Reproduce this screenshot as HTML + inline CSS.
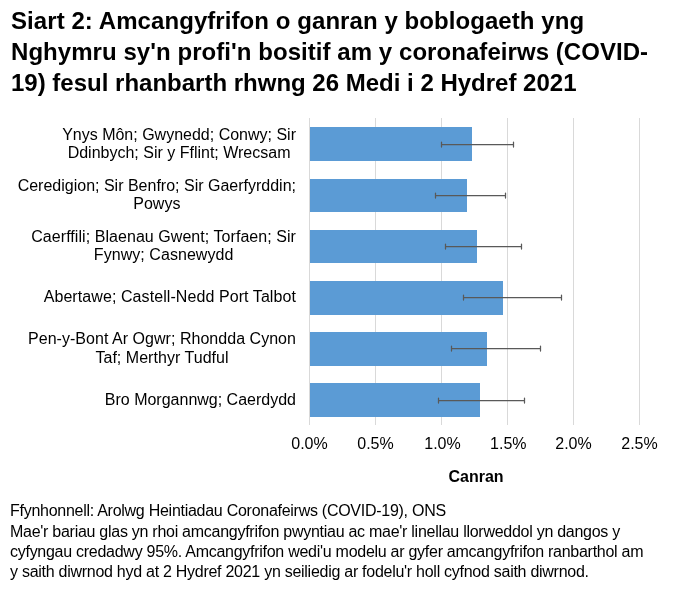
<!DOCTYPE html>
<html lang="cy">
<head>
<meta charset="utf-8">
<title>Siart 2</title>
<style>
html,body{margin:0;padding:0;background:#fff;}
body{width:675px;height:600px;position:relative;overflow:hidden;font-family:"Liberation Sans",Arial,sans-serif;color:#000;}
.t{position:absolute;white-space:nowrap;}
#title{left:11px;top:5px;font-weight:bold;font-size:24px;line-height:31px;}
.cat{position:absolute;right:379px;text-align:center;font-size:16px;line-height:18px;white-space:nowrap;color:#000;}
.ax{position:absolute;width:60px;text-align:center;font-size:16px;line-height:18px;top:435px;}
#canran{position:absolute;left:426px;width:100px;text-align:center;font-weight:bold;font-size:16px;line-height:18px;top:468px;}
#foot{position:absolute;left:10px;top:500.5px;font-size:16px;letter-spacing:-0.27px;line-height:20px;white-space:nowrap;}
#foot .l1{display:block;margin-bottom:1px;}
svg{position:absolute;left:0;top:0;}
</style>
</head>
<body>
<div id="title" class="t"><span style="letter-spacing:0.07px">Siart 2: Amcangyfrifon o ganran y boblogaeth yng</span><br><span style="letter-spacing:0.055px">Nghymru sy'n profi'n bositif am y coronafeirws (COVID-</span><br>19) fesul rhanbarth rhwng 26 Medi i 2 Hydref 2021</div>

<svg width="675" height="600" viewBox="0 0 675 600">
  <g stroke="#d9d9d9" stroke-width="1">
    <line x1="309.5" y1="118" x2="309.5" y2="425"/>
    <line x1="375.5" y1="118" x2="375.5" y2="425"/>
    <line x1="441.5" y1="118" x2="441.5" y2="425"/>
    <line x1="507.5" y1="118" x2="507.5" y2="425"/>
    <line x1="573.5" y1="118" x2="573.5" y2="425"/>
    <line x1="639.5" y1="118" x2="639.5" y2="425"/>
  </g>
  <g fill="#5b9bd5">
    <rect x="310" y="127" width="162" height="34"/>
    <rect x="310" y="179" width="157" height="33"/>
    <rect x="310" y="230" width="167" height="33"/>
    <rect x="310" y="281" width="193" height="34"/>
    <rect x="310" y="332" width="177" height="34"/>
    <rect x="310" y="383" width="170" height="34"/>
  </g>
  <g stroke="#595959" stroke-width="1.25" stroke-linecap="round" fill="none">
    <path d="M441.5 144.5H513.5M441.5 142.0V147.0M513.5 142.0V147.0"/>
    <path d="M435.5 195.5H505.5M435.5 193.0V198.0M505.5 193.0V198.0"/>
    <path d="M445.5 246.5H521.5M445.5 244.0V249.0M521.5 244.0V249.0"/>
    <path d="M463.5 297.5H561.5M463.5 295.0V300.0M561.5 295.0V300.0"/>
    <path d="M451.5 348.5H540.5M451.5 346.0V351.0M540.5 346.0V351.0"/>
    <path d="M438.5 400.5H524.5M438.5 398.0V403.0M524.5 398.0V403.0"/>
  </g>
</svg>

<div class="cat" style="top:126px">Ynys Môn; Gwynedd; Conwy; Sir<br>Ddinbych; Sir y Fflint; Wrecsam</div>
<div class="cat" style="top:177px">Ceredigion; Sir Benfro; Sir Gaerfyrddin;<br>Powys</div>
<div class="cat" style="top:228px;letter-spacing:0.055px">Caerffili; Blaenau Gwent; Torfaen; Sir<br>Fynwy; Casnewydd</div>
<div class="cat" style="top:288px;letter-spacing:0.08px">Abertawe; Castell-Nedd Port Talbot</div>
<div class="cat" style="top:330px;letter-spacing:0.036px">Pen-y-Bont Ar Ogwr; Rhondda Cynon<br><span style="position:relative;top:1px">Taf; Merthyr Tudful</span></div>
<div class="cat" style="top:391px">Bro Morgannwg; Caerdydd</div>

<div class="ax" style="left:279.5px">0.0%</div>
<div class="ax" style="left:345.5px">0.5%</div>
<div class="ax" style="left:412.5px">1.0%</div>
<div class="ax" style="left:478.3px">1.5%</div>
<div class="ax" style="left:543.5px">2.0%</div>
<div class="ax" style="left:609.5px">2.5%</div>

<div id="canran">Canran</div>

<div id="foot"><span class="l1">Ffynhonnell: Arolwg Heintiadau Coronafeirws (COVID-19), ONS</span>Mae'r bariau glas yn rhoi amcangyfrifon pwyntiau ac mae'r linellau llorweddol yn dangos y<br>cyfyngau credadwy 95%. Amcangyfrifon wedi'u modelu ar gyfer amcangyfrifon ranbarthol am<br>y saith diwrnod hyd at 2 Hydref 2021 yn seiliedig ar fodelu'r holl cyfnod saith diwrnod.</div>
</body>
</html>
